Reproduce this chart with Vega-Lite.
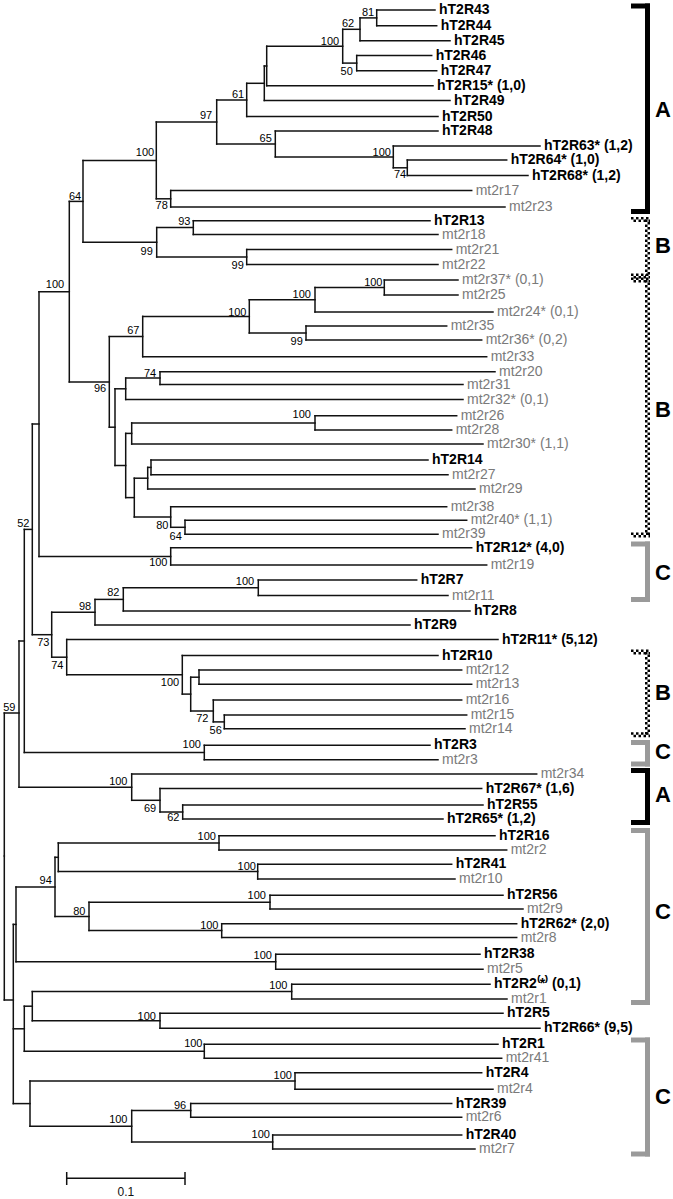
{
"$schema": "https://vega.github.io/schema/vega-lite/v6.json",
"width": 673, "height": 1199,
"autosize": {"type": "fit", "contains": "padding"},
"padding": 0,
"background": "white",
"config": {"view": {"stroke": null}, "text": {"font": "Liberation Sans"}},
"datasets": {
"tree": [
{"x":376.7,"y":17.9,"px":360,"y1":10,"y2":25.7},
{"x":360,"y":29.3,"px":342.7,"y1":17.9,"y2":40.7},
{"x":356.7,"y":63.1,"px":342.7,"y1":55.5,"y2":70.7},
{"x":342.7,"y":46.2,"px":266.7,"y1":29.3,"y2":63.1},
{"x":266.7,"y":66,"px":264.3,"y1":46.2,"y2":85.7},
{"x":264.3,"y":83.3,"px":246.7,"y1":66,"y2":100.5},
{"x":246.7,"y":99.9,"px":216.7,"y1":83.3,"y2":116.5},
{"x":407.3,"y":167.8,"px":393.3,"y1":160,"y2":175.5},
{"x":393.3,"y":156.9,"px":275.3,"y1":146,"y2":167.8},
{"x":275.3,"y":144,"px":216.7,"y1":131,"y2":156.9},
{"x":216.7,"y":122,"px":156.3,"y1":99.9,"y2":144},
{"x":170.7,"y":198.8,"px":156.3,"y1":190.5,"y2":207},
{"x":156.3,"y":160.4,"px":83,"y1":122,"y2":198.8},
{"x":193.3,"y":227.6,"px":156.7,"y1":220.7,"y2":234.5},
{"x":246.7,"y":257,"px":156.7,"y1":249.5,"y2":264.5},
{"x":156.7,"y":242.3,"px":83,"y1":227.6,"y2":257},
{"x":83,"y":201.4,"px":69.3,"y1":160.4,"y2":242.3},
{"x":384.3,"y":287.5,"px":315,"y1":280,"y2":295},
{"x":315,"y":299.8,"px":249.3,"y1":287.5,"y2":312},
{"x":306,"y":333,"px":249.3,"y1":326,"y2":340},
{"x":249.3,"y":316.4,"px":142.7,"y1":299.8,"y2":333},
{"x":142.7,"y":336.6,"px":109.3,"y1":316.4,"y2":356.7},
{"x":160,"y":378.1,"px":125.7,"y1":371.7,"y2":384.5},
{"x":125.7,"y":388.8,"px":115,"y1":378.1,"y2":399.5},
{"x":315,"y":422.9,"px":131.7,"y1":415.7,"y2":430},
{"x":131.7,"y":433.4,"px":125.7,"y1":422.9,"y2":444},
{"x":151,"y":467.4,"px":147.7,"y1":460,"y2":474.8},
{"x":147.7,"y":478.2,"px":134.3,"y1":467.4,"y2":489},
{"x":185,"y":527.3,"px":170.7,"y1":520.3,"y2":534.3},
{"x":170.7,"y":517,"px":134.3,"y1":506.7,"y2":527.3},
{"x":134.3,"y":497.6,"px":125.7,"y1":478.2,"y2":517},
{"x":125.7,"y":465.5,"px":115,"y1":433.4,"y2":497.6},
{"x":115,"y":427.2,"px":109.3,"y1":388.8,"y2":465.5},
{"x":109.3,"y":381.9,"px":69.3,"y1":336.6,"y2":427.2},
{"x":69.3,"y":291.7,"px":39,"y1":201.4,"y2":381.9},
{"x":170.7,"y":556.4,"px":39,"y1":547.7,"y2":565},
{"x":39,"y":424,"px":32.3,"y1":291.7,"y2":556.4},
{"x":258.3,"y":587.8,"px":123.3,"y1":580,"y2":595.5},
{"x":123.3,"y":599.4,"px":95,"y1":587.8,"y2":611},
{"x":95,"y":612.2,"px":51.7,"y1":599.4,"y2":625},
{"x":224.3,"y":721.9,"px":213.3,"y1":715,"y2":728.7},
{"x":213.3,"y":711,"px":190.7,"y1":700,"y2":721.9},
{"x":199,"y":677.2,"px":190.7,"y1":670,"y2":684.3},
{"x":190.7,"y":694.1,"px":182.3,"y1":677.2,"y2":711},
{"x":182.3,"y":674.8,"px":66.7,"y1":655.5,"y2":694.1},
{"x":66.7,"y":657.2,"px":51.7,"y1":639.5,"y2":674.8},
{"x":51.7,"y":634.7,"px":32.3,"y1":612.2,"y2":657.2},
{"x":32.3,"y":529.4,"px":24.3,"y1":424,"y2":634.7},
{"x":204.3,"y":752.5,"px":24.3,"y1":745.3,"y2":759.7},
{"x":24.3,"y":641,"px":19,"y1":529.4,"y2":752.5},
{"x":182.7,"y":812,"px":160,"y1":805,"y2":819},
{"x":160,"y":800.3,"px":131.7,"y1":788.5,"y2":812},
{"x":131.7,"y":787.2,"px":19,"y1":774,"y2":800.3},
{"x":19,"y":713,"px":4.3,"y1":641,"y2":787.2},
{"x":219,"y":842.9,"px":58.3,"y1":835.7,"y2":850},
{"x":257.7,"y":871.6,"px":58.3,"y1":864.2,"y2":879},
{"x":58.3,"y":857.3,"px":55,"y1":842.9,"y2":871.6},
{"x":270,"y":902.2,"px":89,"y1":895.3,"y2":909},
{"x":221.7,"y":930.6,"px":89,"y1":923.7,"y2":937.5},
{"x":89,"y":916.4,"px":55,"y1":902.2,"y2":930.6},
{"x":55,"y":886.9,"px":16,"y1":857.3,"y2":916.4},
{"x":275.7,"y":961.8,"px":16,"y1":954.3,"y2":969.2},
{"x":16,"y":924.4,"px":13.3,"y1":886.9,"y2":961.8},
{"x":291.7,"y":991.6,"px":32.3,"y1":984.2,"y2":999},
{"x":160,"y":1020.8,"px":32.3,"y1":1013.3,"y2":1028.3},
{"x":32.3,"y":1006.2,"px":24.3,"y1":991.6,"y2":1020.8},
{"x":204.3,"y":1051.3,"px":24.3,"y1":1044.3,"y2":1058.3},
{"x":24.3,"y":1028.8,"px":13.3,"y1":1006.2,"y2":1051.3},
{"x":295,"y":1081,"px":30,"y1":1072.7,"y2":1089.3},
{"x":190.7,"y":1110.4,"px":131.7,"y1":1103.5,"y2":1117.3},
{"x":272.7,"y":1142,"px":131.7,"y1":1135,"y2":1149},
{"x":131.7,"y":1126.2,"px":30,"y1":1110.4,"y2":1142},
{"x":30,"y":1103.6,"px":13.3,"y1":1081,"y2":1126.2},
{"x":13.3,"y":1000,"px":4.3,"y1":924.4,"y2":1103.6},
{"x":4.3,"y":856,"px":4.3,"y1":713,"y2":1000},
{"t":"hT2R43","h":1,"y":10,"x":435,"px":376.7},
{"t":"hT2R44","h":1,"y":25.7,"x":436.7,"px":376.7},
{"t":"hT2R45","h":1,"y":40.7,"x":450,"px":360},
{"t":"hT2R46","h":1,"y":55.5,"x":431.7,"px":356.7},
{"t":"hT2R47","h":1,"y":70.7,"x":436.7,"px":356.7},
{"t":"hT2R15* (1,0)","h":1,"y":85.7,"x":433,"px":266.7},
{"t":"hT2R49","h":1,"y":100.5,"x":450,"px":264.3},
{"t":"hT2R50","h":1,"y":116.5,"x":438,"px":246.7},
{"t":"hT2R48","h":1,"y":131,"x":438,"px":275.3},
{"t":"hT2R63* (1,2)","h":1,"y":146,"x":540,"px":393.3},
{"t":"hT2R64* (1,0)","h":1,"y":160,"x":506.7,"px":407.3},
{"t":"hT2R68* (1,2)","h":1,"y":175.5,"x":528,"px":407.3},
{"t":"mt2r17","h":0,"y":190.5,"x":471.7,"px":170.7},
{"t":"mt2r23","h":0,"y":207,"x":505,"px":170.7},
{"t":"hT2R13","h":1,"y":220.7,"x":430,"px":193.3},
{"t":"mt2r18","h":0,"y":234.5,"x":438,"px":193.3},
{"t":"mt2r21","h":0,"y":249.5,"x":451.7,"px":246.7},
{"t":"mt2r22","h":0,"y":264.5,"x":438,"px":246.7},
{"t":"mt2r37* (0,1)","h":0,"y":280,"x":458,"px":384.3},
{"t":"mt2r25","h":0,"y":295,"x":458,"px":384.3},
{"t":"mt2r24* (0,1)","h":0,"y":312,"x":493,"px":315},
{"t":"mt2r35","h":0,"y":326,"x":446.7,"px":306},
{"t":"mt2r36* (0,2)","h":0,"y":340,"x":481.7,"px":306},
{"t":"mt2r33","h":0,"y":356.7,"x":486.7,"px":142.7},
{"t":"mt2r20","h":0,"y":371.7,"x":495,"px":160},
{"t":"mt2r31","h":0,"y":384.5,"x":463,"px":160},
{"t":"mt2r32* (0,1)","h":0,"y":399.5,"x":463,"px":125.7},
{"t":"mt2r26","h":0,"y":415.7,"x":456.7,"px":315},
{"t":"mt2r28","h":0,"y":430,"x":451.7,"px":315},
{"t":"mt2r30* (1,1)","h":0,"y":444,"x":483,"px":131.7},
{"t":"hT2R14","h":1,"y":460,"x":428,"px":151},
{"t":"mt2r27","h":0,"y":474.8,"x":448,"px":151},
{"t":"mt2r29","h":0,"y":489,"x":475,"px":147.7},
{"t":"mt2r38","h":0,"y":506.7,"x":446.7,"px":170.7},
{"t":"mt2r40* (1,1)","h":0,"y":520.3,"x":466.7,"px":185},
{"t":"mt2r39","h":0,"y":534.3,"x":438,"px":185},
{"t":"hT2R12* (4,0)","h":1,"y":547.7,"x":471.7,"px":170.7},
{"t":"mt2r19","h":0,"y":565,"x":486.7,"px":170.7},
{"t":"hT2R7","h":1,"y":580,"x":416.7,"px":258.3},
{"t":"mt2r11","h":0,"y":595.5,"x":448,"px":258.3},
{"t":"hT2R8","h":1,"y":611,"x":470,"px":123.3},
{"t":"hT2R9","h":1,"y":625,"x":410,"px":95},
{"t":"hT2R11* (5,12)","h":1,"y":639.5,"x":498,"px":66.7},
{"t":"hT2R10","h":1,"y":655.5,"x":438,"px":182.3},
{"t":"mt2r12","h":0,"y":670,"x":461.7,"px":199},
{"t":"mt2r13","h":0,"y":684.3,"x":471.7,"px":199},
{"t":"mt2r16","h":0,"y":700,"x":461.7,"px":213.3},
{"t":"mt2r15","h":0,"y":715,"x":466.7,"px":224.3},
{"t":"mt2r14","h":0,"y":728.7,"x":465,"px":224.3},
{"t":"hT2R3","h":1,"y":745.3,"x":430,"px":204.3},
{"t":"mt2r3","h":0,"y":759.7,"x":438,"px":204.3},
{"t":"mt2r34","h":0,"y":774,"x":536.7,"px":131.7},
{"t":"hT2R67* (1,6)","h":1,"y":788.5,"x":481.7,"px":160},
{"t":"hT2R55","h":1,"y":805,"x":483,"px":182.7},
{"t":"hT2R65* (1,2)","h":1,"y":819,"x":443,"px":182.7},
{"t":"hT2R16","h":1,"y":835.7,"x":495,"px":219},
{"t":"mt2r2","h":0,"y":850,"x":506.7,"px":219},
{"t":"hT2R41","h":1,"y":864.2,"x":451.7,"px":257.7},
{"t":"mt2r10","h":0,"y":879,"x":455,"px":257.7},
{"t":"hT2R56","h":1,"y":895.3,"x":503,"px":270},
{"t":"mt2r9","h":0,"y":909,"x":523,"px":270},
{"t":"hT2R62* (2,0)","h":1,"y":923.7,"x":516.7,"px":221.7},
{"t":"mt2r8","h":0,"y":937.5,"x":516.7,"px":221.7},
{"t":"hT2R38","h":1,"y":954.3,"x":480,"px":275.7},
{"t":"mt2r5","h":0,"y":969.2,"x":483,"px":275.7},
{"t":"hT2R2⁽*⁾ (0,1)","h":1,"y":984.2,"x":490,"px":291.7},
{"t":"mt2r1","h":0,"y":999,"x":507,"px":291.7},
{"t":"hT2R5","h":1,"y":1013.3,"x":503,"px":160},
{"t":"hT2R66* (9,5)","h":1,"y":1028.3,"x":540,"px":160},
{"t":"hT2R1","h":1,"y":1044.3,"x":498,"px":204.3},
{"t":"mt2r41","h":0,"y":1058.3,"x":501.7,"px":204.3},
{"t":"hT2R4","h":1,"y":1072.7,"x":481.7,"px":295},
{"t":"mt2r4","h":0,"y":1089.3,"x":493,"px":295},
{"t":"hT2R39","h":1,"y":1103.5,"x":451.7,"px":190.7},
{"t":"mt2r6","h":0,"y":1117.3,"x":461.7,"px":190.7},
{"t":"hT2R40","h":1,"y":1135,"x":461.7,"px":272.7},
{"t":"mt2r7","h":0,"y":1149,"x":475,"px":272.7}
],
"boot": [
{"x":368,"y":12.7,"b":"81"},{"x":348,"y":24,"b":"62"},{"x":330,"y":41.7,"b":"100"},{"x":346.7,"y":71.7,"b":"50"},
{"x":238,"y":95,"b":"61"},{"x":206,"y":116,"b":"97"},{"x":265.7,"y":139.3,"b":"65"},{"x":381.7,"y":152.7,"b":"100"},
{"x":400,"y":175,"b":"74"},{"x":145,"y":153,"b":"100"},{"x":161.7,"y":206,"b":"78"},{"x":75,"y":196.7,"b":"64"},
{"x":184.3,"y":221.7,"b":"93"},{"x":146.7,"y":251.7,"b":"99"},{"x":237.7,"y":266,"b":"99"},{"x":55,"y":285,"b":"100"},
{"x":373.3,"y":283.3,"b":"100"},{"x":301.7,"y":295,"b":"100"},{"x":237.3,"y":312.7,"b":"100"},{"x":296.7,"y":341.7,"b":"99"},
{"x":133.3,"y":331,"b":"67"},{"x":100,"y":389.3,"b":"96"},{"x":150,"y":374,"b":"74"},{"x":301.7,"y":415,"b":"100"},
{"x":162.3,"y":526,"b":"80"},{"x":175.7,"y":536.7,"b":"64"},{"x":158.3,"y":563.3,"b":"100"},{"x":23.3,"y":524,"b":"52"},
{"x":245,"y":581.7,"b":"100"},{"x":113.3,"y":592.7,"b":"82"},{"x":85,"y":607.3,"b":"98"},{"x":43.3,"y":643.3,"b":"73"},
{"x":57.3,"y":666,"b":"74"},{"x":170,"y":682.7,"b":"100"},{"x":202.3,"y":719.3,"b":"72"},{"x":215.7,"y":730.7,"b":"56"},
{"x":191.7,"y":745,"b":"100"},{"x":9.3,"y":708.3,"b":"59"},{"x":118.3,"y":781.7,"b":"100"},{"x":150,"y":809.3,"b":"69"},
{"x":173.3,"y":818.3,"b":"62"},{"x":206.7,"y":836.7,"b":"100"},{"x":246.7,"y":866.7,"b":"100"},{"x":45.7,"y":881,"b":"94"},
{"x":79.3,"y":911.7,"b":"80"},{"x":256.7,"y":895.7,"b":"100"},{"x":209.3,"y":926,"b":"100"},{"x":262.7,"y":956,"b":"100"},
{"x":278.3,"y":986,"b":"100"},{"x":146.7,"y":1016.7,"b":"100"},{"x":193.3,"y":1044.3,"b":"100"},{"x":282.7,"y":1076,"b":"100"},
{"x":180,"y":1106,"b":"96"},{"x":118.3,"y":1120,"b":"100"},{"x":260.7,"y":1135,"b":"100"}
],
"br": [
{"g":"A","top":6,"bot":211.5,"ly":110},
{"g":"B","top":219.5,"bot":276,"ly":246},
{"g":"B","top":280,"bot":535,"ly":410},
{"g":"C","top":544,"bot":599.5,"ly":573},
{"g":"B","top":652,"bot":734.7,"ly":693},
{"g":"C","top":742.5,"bot":764,"ly":752},
{"g":"A","top":770.5,"bot":822.5,"ly":795},
{"g":"C","top":830.5,"bot":1002.5,"ly":912},
{"g":"C","top":1040,"bot":1154,"ly":1097}
],
"bar": [{"a":66.7,"b":185,"y":1178.3,"lo":1172,"hi":1185,"tx":125.8,"ty":1192,"t":"0.1"}]
},
"layer": [
{"data":{"name":"tree"},
 "mark":{"type":"rule","stroke":"#111111","strokeWidth":1.5,"strokeCap":"square"},
 "encoding":{
  "x":{"field":"px","type":"quantitative","scale":{"domain":[0,673],"nice":false,"zero":false},"axis":null},
  "x2":{"field":"x"},
  "y":{"field":"y","type":"quantitative","scale":{"domain":[0,1199],"nice":false,"zero":false,"reverse":true},"axis":null}}},
{"data":{"name":"tree"},
 "transform":[{"filter":"isValid(datum.y1)"}],
 "mark":{"type":"rule","stroke":"#111111","strokeWidth":1.5,"strokeCap":"square"},
 "encoding":{
  "x":{"field":"x","type":"quantitative","scale":{"domain":[0,673],"nice":false,"zero":false},"axis":null},
  "y":{"field":"y1","type":"quantitative","scale":{"domain":[0,1199],"nice":false,"zero":false,"reverse":true},"axis":null},
  "y2":{"field":"y2"}}},
{"data":{"name":"tree"},
 "transform":[{"filter":"datum.h === 1"}],
 "mark":{"type":"text","align":"left","baseline":"middle","dx":4,"fontSize":14,"fontWeight":"bold","fill":"#000000","font":"Liberation Sans"},
 "encoding":{
  "x":{"field":"x","type":"quantitative","scale":{"domain":[0,673],"nice":false,"zero":false},"axis":null},
  "y":{"field":"y","type":"quantitative","scale":{"domain":[0,1199],"nice":false,"zero":false,"reverse":true},"axis":null},
  "text":{"field":"t"}}},
{"data":{"name":"tree"},
 "transform":[{"filter":"datum.h === 0"}],
 "mark":{"type":"text","align":"left","baseline":"middle","dx":4,"fontSize":14,"fill":"#7a7a7a","font":"Liberation Sans"},
 "encoding":{
  "x":{"field":"x","type":"quantitative","scale":{"domain":[0,673],"nice":false,"zero":false},"axis":null},
  "y":{"field":"y","type":"quantitative","scale":{"domain":[0,1199],"nice":false,"zero":false,"reverse":true},"axis":null},
  "text":{"field":"t"}}},
{"data":{"name":"boot"},
 "mark":{"type":"text","align":"center","baseline":"middle","fontSize":11,"fill":"#000000","font":"Liberation Sans"},
 "encoding":{
  "x":{"field":"x","type":"quantitative","scale":{"domain":[0,673],"nice":false,"zero":false},"axis":null},
  "y":{"field":"y","type":"quantitative","scale":{"domain":[0,1199],"nice":false,"zero":false,"reverse":true},"axis":null},
  "text":{"field":"b"}}},
{"data":{"name":"br"},
 "transform":[{"filter":"datum.g !== 'B'"}],
 "mark":{"type":"rule","strokeWidth":5,"strokeCap":"square"},
 "encoding":{
  "x":{"datum":647.5,"type":"quantitative","scale":{"domain":[0,673],"nice":false,"zero":false},"axis":null},
  "y":{"field":"top","type":"quantitative","scale":{"domain":[0,1199],"nice":false,"zero":false,"reverse":true},"axis":null},
  "y2":{"field":"bot"},
  "color":{"field":"g","type":"nominal","scale":{"domain":["A","B","C"],"range":["#000000","#000000","#9a9a9a"]},"legend":null}}},
{"data":{"name":"br"},
 "transform":[{"filter":"datum.g !== 'B'"},{"fold":["top","bot"],"as":["k","v"]}],
 "mark":{"type":"rule","strokeWidth":5,"strokeCap":"butt"},
 "encoding":{
  "x":{"datum":631,"type":"quantitative","scale":{"domain":[0,673],"nice":false,"zero":false},"axis":null},
  "x2":{"datum":650},
  "y":{"field":"v","type":"quantitative","scale":{"domain":[0,1199],"nice":false,"zero":false,"reverse":true},"axis":null},
  "color":{"field":"g","type":"nominal","scale":{"domain":["A","B","C"],"range":["#000000","#000000","#9a9a9a"]},"legend":null}}},
{"data":{"name":"br"},
 "transform":[{"filter":"datum.g === 'B'"}],
 "mark":{"type":"rule","strokeWidth":2.5,"stroke":"#000000","strokeDash":[2.5,2.5],"strokeCap":"butt"},
 "encoding":{
  "x":{"datum":646.25,"type":"quantitative","scale":{"domain":[0,673],"nice":false,"zero":false},"axis":null},
  "y":{"field":"top","type":"quantitative","scale":{"domain":[0,1199],"nice":false,"zero":false,"reverse":true},"axis":null},
  "y2":{"field":"bot"}}},
{"data":{"name":"br"},
 "transform":[{"filter":"datum.g === 'B'"}],
 "mark":{"type":"rule","strokeWidth":2.5,"stroke":"#000000","strokeDash":[2.5,2.5],"strokeDashOffset":2.5,"strokeCap":"butt"},
 "encoding":{
  "x":{"datum":648.75,"type":"quantitative","scale":{"domain":[0,673],"nice":false,"zero":false},"axis":null},
  "y":{"field":"top","type":"quantitative","scale":{"domain":[0,1199],"nice":false,"zero":false,"reverse":true},"axis":null},
  "y2":{"field":"bot"}}},
{"data":{"name":"br"},
 "transform":[{"filter":"datum.g === 'B'"},{"fold":["top","bot"],"as":["k","v"]}],
 "mark":{"type":"rule","strokeWidth":2.5,"stroke":"#000000","strokeDash":[2.5,2.5],"yOffset":-1.25,"strokeCap":"butt"},
 "encoding":{
  "x":{"datum":631,"type":"quantitative","scale":{"domain":[0,673],"nice":false,"zero":false},"axis":null},
  "x2":{"datum":650},
  "y":{"field":"v","type":"quantitative","scale":{"domain":[0,1199],"nice":false,"zero":false,"reverse":true},"axis":null}}},
{"data":{"name":"br"},
 "transform":[{"filter":"datum.g === 'B'"},{"fold":["top","bot"],"as":["k","v"]}],
 "mark":{"type":"rule","strokeWidth":2.5,"stroke":"#000000","strokeDash":[2.5,2.5],"strokeDashOffset":2.5,"yOffset":1.25,"strokeCap":"butt"},
 "encoding":{
  "x":{"datum":631,"type":"quantitative","scale":{"domain":[0,673],"nice":false,"zero":false},"axis":null},
  "x2":{"datum":650},
  "y":{"field":"v","type":"quantitative","scale":{"domain":[0,1199],"nice":false,"zero":false,"reverse":true},"axis":null}}},
{"data":{"name":"br"},
 "mark":{"type":"text","align":"center","baseline":"middle","fontSize":22,"fontWeight":"bold","fill":"#000000","font":"Liberation Sans"},
 "encoding":{
  "x":{"datum":663,"type":"quantitative","scale":{"domain":[0,673],"nice":false,"zero":false},"axis":null},
  "y":{"field":"ly","type":"quantitative","scale":{"domain":[0,1199],"nice":false,"zero":false,"reverse":true},"axis":null},
  "text":{"field":"g"}}},
{"data":{"name":"bar"},
 "mark":{"type":"rule","stroke":"#111111","strokeWidth":1.5},
 "encoding":{
  "x":{"field":"a","type":"quantitative","scale":{"domain":[0,673],"nice":false,"zero":false},"axis":null},
  "x2":{"field":"b"},
  "y":{"field":"y","type":"quantitative","scale":{"domain":[0,1199],"nice":false,"zero":false,"reverse":true},"axis":null}}},
{"data":{"name":"bar"},
 "transform":[{"fold":["a","b"],"as":["k","v"]}],
 "mark":{"type":"rule","stroke":"#111111","strokeWidth":1.5},
 "encoding":{
  "x":{"field":"v","type":"quantitative","scale":{"domain":[0,673],"nice":false,"zero":false},"axis":null},
  "y":{"field":"lo","type":"quantitative","scale":{"domain":[0,1199],"nice":false,"zero":false,"reverse":true},"axis":null},
  "y2":{"field":"hi"}}},
{"data":{"name":"bar"},
 "mark":{"type":"text","align":"center","baseline":"middle","fontSize":12,"fill":"#111111","font":"Liberation Sans"},
 "encoding":{
  "x":{"field":"tx","type":"quantitative","scale":{"domain":[0,673],"nice":false,"zero":false},"axis":null},
  "y":{"field":"ty","type":"quantitative","scale":{"domain":[0,1199],"nice":false,"zero":false,"reverse":true},"axis":null},
  "text":{"field":"t"}}}
]
}
